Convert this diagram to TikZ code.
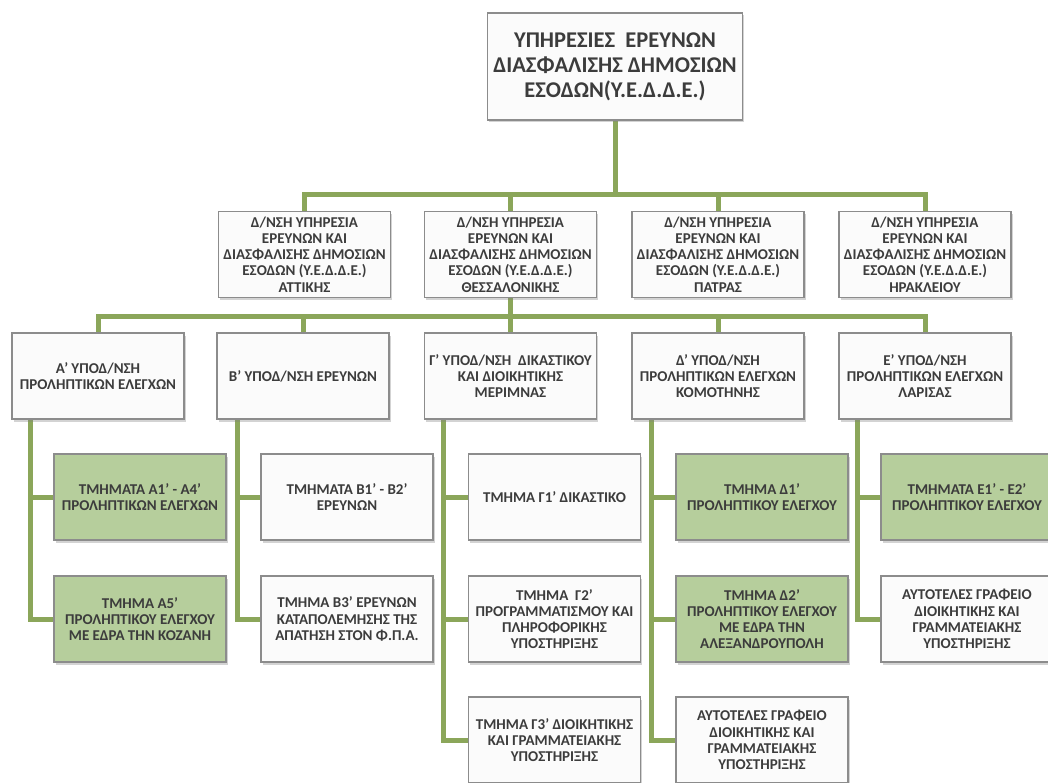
\documentclass[tikz,border=0pt]{standalone}
\usepackage{fontspec}
\setmainfont{Carlito}
\usetikzlibrary{shadows,backgrounds}

\definecolor{linkgreen}{HTML}{8BA65A}
\definecolor{boxgreen}{HTML}{B6CE9C}
\definecolor{boxline}{HTML}{8C8C8C}
\definecolor{txtgray}{HTML}{3C3C3C}

\begin{document}
\begin{tikzpicture}[x=1pt,y=-1pt,
    link/.style={draw=linkgreen,line width=5pt},
    unit/.style={draw=boxline,line width=1.1pt,fill=white!97!gray,
      minimum width=172pt,minimum height=86pt,inner sep=1pt,align=center,
      text=txtgray,font=\bfseries\fontsize{15}{16.2}\selectfont,
      drop shadow={opacity=0.35,shadow xshift=1.5pt,shadow yshift=-2.5pt}},
    greenunit/.style={unit,fill=boxgreen}]
    \useasboundingbox (0,0) rectangle (1048,783);
    \clip (0,0) rectangle (1048,783);

    % head
    \node[unit,minimum width=255pt,minimum height=107pt,
      font=\bfseries\fontsize{22.5}{25}\selectfont] (root) at (615,66.5)
      {ΥΠΗΡΕΣΙΕΣ\ \ ΕΡΕΥΝΩΝ\\ΔΙΑΣΦΑΛΙΣΗΣ ΔΗΜΟΣΙΩΝ\\ΕΣΟΔΩΝ(Υ.Ε.Δ.Δ.Ε.)};

    % regional directorates
    \node[unit] (attiki) at (304.5,254.5)
      {Δ/ΝΣΗ ΥΠΗΡΕΣΙΑ\\ΕΡΕΥΝΩΝ ΚΑΙ\\ΔΙΑΣΦΑΛΙΣΗΣ ΔΗΜΟΣΙΩΝ\\ΕΣΟΔΩΝ (Υ.Ε.Δ.Δ.Ε.)\\ΑΤΤΙΚΗΣ};
    \node[unit] (thess) at (510.5,254.5)
      {Δ/ΝΣΗ ΥΠΗΡΕΣΙΑ\\ΕΡΕΥΝΩΝ ΚΑΙ\\ΔΙΑΣΦΑΛΙΣΗΣ ΔΗΜΟΣΙΩΝ\\ΕΣΟΔΩΝ (Υ.Ε.Δ.Δ.Ε.)\\ΘΕΣΣΑΛΟΝΙΚΗΣ};
    \node[unit] (patra) at (718,254.5)
      {Δ/ΝΣΗ ΥΠΗΡΕΣΙΑ\\ΕΡΕΥΝΩΝ ΚΑΙ\\ΔΙΑΣΦΑΛΙΣΗΣ ΔΗΜΟΣΙΩΝ\\ΕΣΟΔΩΝ (Υ.Ε.Δ.Δ.Ε.)\\ΠΑΤΡΑΣ};
    \node[unit] (irakl) at (925,254.5)
      {Δ/ΝΣΗ ΥΠΗΡΕΣΙΑ\\ΕΡΕΥΝΩΝ ΚΑΙ\\ΔΙΑΣΦΑΛΙΣΗΣ ΔΗΜΟΣΙΩΝ\\ΕΣΟΔΩΝ (Υ.Ε.Δ.Δ.Ε.)\\ΗΡΑΚΛΕΙΟΥ};

    % sub-directorates
    \node[unit] (subA) at (98,376) {Α' ΥΠΟΔ/ΝΣΗ\\ΠΡΟΛΗΠΤΙΚΩΝ ΕΛΕΓΧΩΝ};
    \node[unit] (subB) at (303,376) {Β' ΥΠΟΔ/ΝΣΗ ΕΡΕΥΝΩΝ};
    \node[unit] (subG) at (510.5,376) {Γ' ΥΠΟΔ/ΝΣΗ\ \ ΔΙΚΑΣΤΙΚΟΥ\\ΚΑΙ ΔΙΟΙΚΗΤΙΚΗΣ\\ΜΕΡΙΜΝΑΣ};
    \node[unit] (subD) at (718,376) {Δ' ΥΠΟΔ/ΝΣΗ\\ΠΡΟΛΗΠΤΙΚΩΝ ΕΛΕΓΧΩΝ\\ΚΟΜΟΤΗΝΗΣ};
    \node[unit] (subE) at (925,376) {Ε' ΥΠΟΔ/ΝΣΗ\\ΠΡΟΛΗΠΤΙΚΩΝ ΕΛΕΓΧΩΝ\\ΛΑΡΙΣΑΣ};

    % departments
    \node[greenunit] (a1) at (140,497) {ΤΜΗΜΑΤΑ Α1' - Α4'\\ΠΡΟΛΗΠΤΙΚΩΝ ΕΛΕΓΧΩΝ};
    \node[greenunit] (a2) at (140,619) {ΤΜΗΜΑ Α5'\\ΠΡΟΛΗΠΤΙΚΟΥ ΕΛΕΓΧΟΥ\\ΜΕ ΕΔΡΑ ΤΗΝ ΚΟΖΑΝΗ};
    \node[unit] (b1) at (347,497) {ΤΜΗΜΑΤΑ Β1' - Β2'\\ΕΡΕΥΝΩΝ};
    \node[unit] (b2) at (347,619) {ΤΜΗΜΑ Β3' ΕΡΕΥΝΩΝ\\ΚΑΤΑΠΟΛΕΜΗΣΗΣ ΤΗΣ\\ΑΠΑΤΗΣΗ ΣΤΟΝ Φ.Π.Α.};
    \node[unit] (g1) at (554.5,497) {ΤΜΗΜΑ Γ1' ΔΙΚΑΣΤΙΚΟ};
    \node[unit] (g2) at (554.5,619) {ΤΜΗΜΑ\ \ Γ2'\\ΠΡΟΓΡΑΜΜΑΤΙΣΜΟΥ ΚΑΙ\\ΠΛΗΡΟΦΟΡΙΚΗΣ\\ΥΠΟΣΤΗΡΙΞΗΣ};
    \node[unit] (g3) at (554.5,740) {ΤΜΗΜΑ Γ3' ΔΙΟΙΚΗΤΙΚΗΣ\\ΚΑΙ ΓΡΑΜΜΑΤΕΙΑΚΗΣ\\ΥΠΟΣΤΗΡΙΞΗΣ};
    \node[greenunit] (d1) at (762,497) {ΤΜΗΜΑ Δ1'\\ΠΡΟΛΗΠΤΙΚΟΥ ΕΛΕΓΧΟΥ};
    \node[greenunit] (d2) at (762,619) {ΤΜΗΜΑ Δ2'\\ΠΡΟΛΗΠΤΙΚΟΥ ΕΛΕΓΧΟΥ\\ΜΕ ΕΔΡΑ ΤΗΝ\\ΑΛΕΞΑΝΔΡΟΥΠΟΛΗ};
    \node[unit] (d3) at (762,740) {ΑΥΤΟΤΕΛΕΣ ΓΡΑΦΕΙΟ\\ΔΙΟΙΚΗΤΙΚΗΣ ΚΑΙ\\ΓΡΑΜΜΑΤΕΙΑΚΗΣ\\ΥΠΟΣΤΗΡΙΞΗΣ};
    \node[greenunit] (e1) at (967,497) {ΤΜΗΜΑΤΑ Ε1' - Ε2'\\ΠΡΟΛΗΠΤΙΚΟΥ ΕΛΕΓΧΟΥ};
    \node[unit] (e2) at (967,619) {ΑΥΤΟΤΕΛΕΣ ΓΡΑΦΕΙΟ\\ΔΙΟΙΚΗΤΙΚΗΣ ΚΑΙ\\ΓΡΑΜΜΑΤΕΙΑΚΗΣ\\ΥΠΟΣΤΗΡΙΞΗΣ};

    % connectors, behind the boxes
    \coordinate (bus1) at (615,195);
    \coordinate (bus2) at (510.5,316);
    \coordinate (ta) at (30,419);
    \coordinate (tb) at (237,419);
    \coordinate (tg) at (443,419);
    \coordinate (td) at (651,419);
    \coordinate (te) at (857,419);

    \begin{scope}[on background layer]
    \draw[link] (root.south) -- (bus1);
    \draw[link] (bus1) -| (attiki.north);
    \draw[link] (bus1) -| (thess.north);
    \draw[link] (bus1) -| (patra.north);
    \draw[link] (bus1) -| (irakl.north);

    \draw[link] (thess.south) -- (bus2);
    \draw[link] (bus2) -| (subA.north);
    \draw[link] (bus2) -| (subB.north);
    \draw[link] (bus2) -| (subG.north);
    \draw[link] (bus2) -| (subD.north);
    \draw[link] (bus2) -| (subE.north);

    \draw[link] (ta) |- (a1.west);
    \draw[link] (ta) |- (a2.west);
    \draw[link] (tb) |- (b1.west);
    \draw[link] (tb) |- (b2.west);
    \draw[link] (tg) |- (g1.west);
    \draw[link] (tg) |- (g2.west);
    \draw[link] (tg) |- (g3.west);
    \draw[link] (td) |- (d1.west);
    \draw[link] (td) |- (d2.west);
    \draw[link] (td) |- (d3.west);
    \draw[link] (te) |- (e1.west);
    \draw[link] (te) |- (e2.west);
    \end{scope}
  \end{tikzpicture}
\end{document}
